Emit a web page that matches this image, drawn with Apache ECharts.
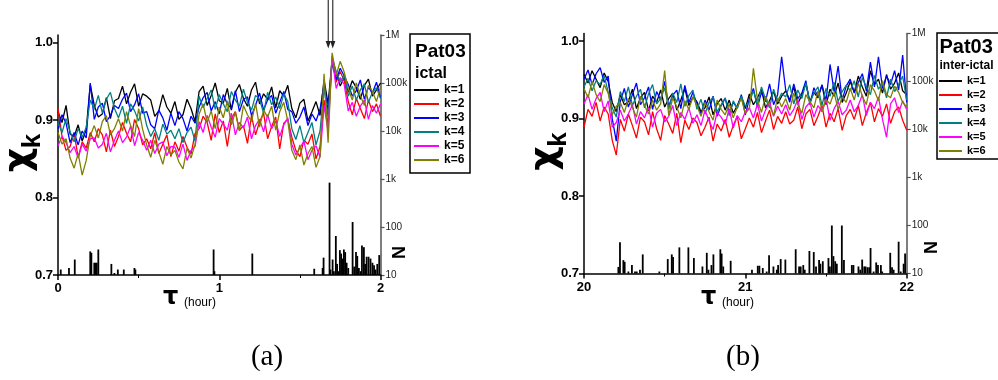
<!DOCTYPE html>
<html><head><meta charset="utf-8">
<script src="https://cdn.jsdelivr.net/npm/echarts@6/dist/echarts.min.js"></script>
<style>html,body{margin:0;padding:0;background:#fff}#c{width:998px;height:380px}</style>
</head><body><div id="c"></div>
<script>
// ---------- DATA ----------
const names = ['k=1','k=2','k=3','k=4','k=5','k=6'];
const tA = [0,0.025,0.05,0.075,0.1,0.125,0.15,0.175,0.2,0.225,0.25,0.275,0.3,0.325,0.35,0.375,0.4,0.425,0.45,0.475,0.5,0.525,0.55,0.575,0.6,0.625,0.65,0.675,0.7,0.725,0.75,0.775,0.8,0.825,0.85,0.875,0.9,0.925,0.95,0.975,1,1.025,1.05,1.075,1.1,1.125,1.15,1.175,1.2,1.225,1.25,1.275,1.3,1.325,1.35,1.375,1.4,1.425,1.45,1.475,1.5,1.525,1.55,1.575,1.6,1.625,1.65,1.675,1.7,1.725,1.75,1.775,1.8,1.825,1.85,1.875,1.9,1.925,1.95,1.975,2];
const tB = [20,20.025,20.05,20.075,20.1,20.125,20.15,20.175,20.2,20.225,20.25,20.275,20.3,20.325,20.35,20.375,20.4,20.425,20.45,20.475,20.5,20.525,20.55,20.575,20.6,20.625,20.65,20.675,20.7,20.725,20.75,20.775,20.8,20.825,20.85,20.875,20.9,20.925,20.95,20.975,21,21.025,21.05,21.075,21.1,21.125,21.15,21.175,21.2,21.225,21.25,21.275,21.3,21.325,21.35,21.375,21.4,21.425,21.45,21.475,21.5,21.525,21.55,21.575,21.6,21.625,21.65,21.675,21.7,21.725,21.75,21.775,21.8,21.825,21.85,21.875,21.9,21.925,21.95,21.975,22];

// panel (a): ictal
const k1A = [.911,.897,.919,.882,.879,.894,.873,.888,.946,.919,.904,.908,.929,.902,.925,.928,.944,.921,.936,.947,.918,.934,.931,.926,.905,.912,.933,.917,.909,.924,.901,.907,.927,.915,.898,.937,.944,.919,.932,.948,.925,.922,.941,.913,.936,.946,.928,.918,.939,.949,.921,.934,.927,.943,.916,.938,.931,.945,.915,.903,.922,.927,.899,.911,.924,.906,.952,.921,.978,.961,.944,.955,.936,.951,.942,.927,.945,.953,.931,.939,.948];
const k2A = [.915,.879,.861,.866,.883,.852,.872,.864,.884,.872,.889,.881,.859,.887,.866,.879,.897,.883,.872,.901,.889,.868,.876,.863,.884,.857,.869,.881,.853,.872,.860,.879,.865,.856,.883,.889,.905,.897,.874,.908,.884,.899,.866,.902,.911,.887,.893,.870,.906,.881,.898,.909,.876,.892,.904,.863,.896,.901,.878,.861,.853,.874,.869,.882,.850,.866,.926,.894,.979,.949,.963,.951,.924,.907,.928,.915,.902,.926,.911,.921,.905];
const k3A = [.889,.907,.896,.871,.884,.868,.886,.877,.948,.901,.917,.922,.898,.906,.919,.915,.927,.935,.911,.920,.934,.909,.911,.894,.889,.913,.903,.887,.909,.893,.911,.902,.886,.905,.896,.917,.929,.936,.912,.924,.908,.933,.921,.915,.938,.911,.927,.930,.906,.919,.935,.913,.926,.932,.909,.923,.937,.914,.911,.896,.904,.917,.893,.908,.899,.914,.946,.912,.975,.952,.967,.957,.946,.931,.938,.952,.927,.943,.935,.949,.929];
const k4A = [.897,.884,.902,.885,.872,.889,.878,.891,.926,.914,.932,.909,.927,.936,.915,.903,.918,.896,.921,.912,.899,.917,.893,.879,.889,.874,.895,.882,.887,.876,.889,.871,.884,.891,.873,.931,.916,.928,.939,.914,.933,.921,.911,.937,.926,.918,.940,.923,.913,.932,.927,.909,.936,.920,.930,.915,.934,.924,.889,.875,.893,.871,.884,.897,.868,.886,.941,.904,.981,.963,.949,.959,.931,.944,.926,.939,.947,.923,.936,.942,.928];
const k5A = [.867,.879,.871,.858,.866,.851,.869,.860,.876,.877,.864,.869,.883,.859,.874,.886,.871,.878,.892,.867,.884,.874,.861,.874,.857,.869,.872,.854,.866,.865,.852,.869,.848,.861,.866,.898,.884,.906,.891,.878,.902,.895,.887,.909,.881,.897,.890,.904,.876,.893,.901,.885,.907,.889,.899,.879,.894,.903,.869,.855,.864,.873,.849,.861,.867,.852,.919,.885,.983,.941,.955,.946,.912,.923,.905,.918,.926,.901,.919,.909,.921];
const k6A = [.884,.869,.876,.851,.838,.857,.829,.848,.880,.893,.877,.898,.906,.881,.889,.902,.886,.911,.893,.879,.915,.888,.868,.852,.874,.859,.843,.866,.855,.861,.846,.837,.864,.851,.869,.908,.921,.897,.912,.889,.917,.903,.925,.894,.910,.886,.919,.907,.898,.922,.891,.913,.904,.918,.887,.911,.923,.899,.861,.849,.868,.842,.857,.866,.839,.853,.960,.871,.987,.958,.976,.962,.941,.926,.948,.932,.919,.945,.937,.924,.943];

// panel (b): inter-ictal
const k1B = [.957,.946,.962,.951,.940,.959,.948,.921,.909,.931,.918,.922,.938,.913,.927,.934,.910,.929,.921,.937,.915,.926,.933,.911,.924,.939,.917,.928,.922,.909,.914,.928,.905,.919,.926,.911,.924,.907,.917,.929,.913,.932,.918,.927,.938,.914,.923,.935,.919,.929,.936,.924,.941,.919,.931,.945,.922,.934,.927,.943,.918,.938,.929,.946,.921,.933,.948,.934,.955,.941,.929,.962,.944,.951,.933,.957,.938,.946,.959,.936,.931];
const k2B = [.889,.912,.903,.921,.897,.915,.906,.872,.853,.899,.884,.906,.891,.875,.902,.896,.879,.909,.887,.872,.904,.893,.881,.907,.869,.898,.886,.901,.895,.878,.889,.902,.871,.893,.884,.899,.876,.891,.903,.874,.887,.901,.889,.908,.882,.897,.911,.886,.903,.894,.909,.893,.898,.915,.887,.906,.912,.891,.903,.917,.889,.907,.896,.913,.885,.904,.912,.899,.917,.891,.908,.921,.896,.913,.903,.919,.894,.909,.915,.898,.885];
const k3B = [.951,.963,.944,.958,.966,.947,.955,.900,.871,.922,.939,.915,.931,.946,.918,.927,.941,.912,.935,.924,.948,.916,.930,.937,.913,.943,.921,.934,.919,.906,.924,.911,.929,.903,.917,.926,.908,.921,.914,.931,.905,.926,.939,.915,.934,.922,.945,.918,.931,.980,.937,.921,.945,.926,.933,.949,.918,.940,.928,.944,.923,.970,.935,.968,.924,.942,.951,.933,.947,.958,.936,.973,.941,.980,.939,.955,.944,.962,.937,.982,.921];
const k4B = [.941,.952,.936,.949,.944,.956,.934,.914,.902,.935,.922,.941,.917,.929,.938,.914,.932,.944,.919,.926,.940,.912,.933,.921,.945,.916,.930,.937,.912,.925,.906,.921,.928,.909,.918,.927,.904,.923,.913,.929,.916,.921,.936,.917,.941,.925,.914,.938,.922,.933,.928,.944,.919,.937,.926,.946,.921,.933,.941,.917,.939,.929,.947,.922,.935,.943,.936,.949,.928,.953,.941,.931,.956,.938,.946,.927,.951,.935,.944,.955,.924];
const k5B = [.919,.931,.912,.926,.934,.909,.923,.889,.895,.911,.897,.906,.918,.893,.909,.901,.915,.889,.907,.912,.896,.903,.917,.891,.908,.899,.914,.894,.905,.891,.911,.897,.886,.908,.902,.893,.913,.888,.904,.896,.909,.914,.901,.919,.897,.911,.922,.903,.916,.906,.918,.904,.912,.925,.899,.915,.921,.902,.917,.909,.926,.898,.913,.922,.905,.911,.924,.909,.917,.931,.904,.921,.913,.928,.899,.876,.919,.927,.908,.923,.912];
const k6B = [.939,.927,.948,.931,.922,.944,.933,.905,.916,.921,.908,.926,.914,.902,.929,.917,.906,.924,.911,.919,.962,.904,.927,.915,.901,.923,.912,.928,.917,.903,.921,.909,.898,.924,.912,.905,.919,.901,.915,.926,.907,.913,.965,.924,.908,.929,.917,.904,.927,.915,.926,.911,.933,.918,.907,.931,.922,.914,.936,.909,.925,.919,.934,.912,.928,.921,.939,.924,.946,.929,.918,.944,.936,.923,.949,.931,.927,.942,.934,.921,.915];

// number of events N (right log axis)
const nTA = [0.017,0.068,0.104,0.200,0.207,0.225,0.232,0.240,0.250,0.331,0.350,0.371,0.408,0.474,0.480,0.965,0.970,1.205,1.589,1.641,1.647,1.684,1.690,1.703,1.711,1.723,1.731,1.740,1.748,1.756,1.765,1.773,1.781,1.790,1.800,1.827,1.837,1.848,1.856,1.866,1.877,1.885,1.897,1.905,1.914,1.926,1.938,1.950,1.960,1.969,1.980,1.992];
const nVA = [13,14,21,31,29,18,18,18,34,17,11,13,13,14,13,34,12,28,13.5,14,23,840,13,21,12,65,17,12,33,28,22,34,30,18,14,127,15,30,25,14,12,41,38,17,24,24,22,18,16,13,17,26];
const nTB = [20.213,20.223,20.244,20.252,20.275,20.297,20.316,20.327,20.347,20.364,20.467,20.519,20.544,20.552,20.591,20.647,20.681,20.734,20.761,20.771,20.790,20.802,20.845,20.853,20.863,20.909,21.041,21.077,21.087,21.108,21.132,21.147,21.174,21.195,21.203,21.219,21.248,21.312,21.333,21.343,21.359,21.368,21.397,21.424,21.438,21.457,21.465,21.480,21.515,21.524,21.536,21.546,21.557,21.567,21.598,21.611,21.660,21.670,21.701,21.712,21.724,21.737,21.745,21.757,21.768,21.776,21.795,21.811,21.822,21.840,21.848,21.898,21.909,21.919,21.950,21.963,21.981,21.990];
const nVB = [13.7,45,19,17.5,11,15,11,11,12,25,11,20,25,22,35,35,21,14,27,12,15,25,32,26,14,18.4,12,14.5,14.5,13,11,24,14,12,15,20,19.5,32,14,14,15,12,29.5,28,14,19,16,18,21,14,100,23,18,16,100,19,15,15,14,12,19.5,14,14,13.5,13.5,34,11,17,15,15,11,27,13.5,12,46,11,16,26];

const chiTicks = [0.7, 0.8, 0.9, 1.0];
const arrowT = [1.676, 1.704];

// ---------- CHART ----------
const colors = ['#000000','#ff0000','#0000ff','#008080','#ff00ff','#808000'];
const FONT = 'Liberation Sans, Arial, sans-serif';
const chart = echarts.init(document.getElementById('c'), null, {renderer: 'canvas'});

function lines(t, sets, gi) {
  return sets.map((v, j) => ({
    name: names[j], type: 'line', xAxisIndex: gi, yAxisIndex: gi * 2,
    data: t.map((x, i) => [x, v[i]]), symbol: 'none', showSymbol: false,
    lineStyle: {width: 1.3, color: colors[j]}, itemStyle: {color: colors[j]},
    z: 3 + j, animation: false, clip: true
  }));
}
function bars(t, n, gi) {
  return {
    name: 'N', type: 'bar', xAxisIndex: gi, yAxisIndex: gi * 2 + 1,
    data: t.map((x, i) => [x, n[i]]), barWidth: 1.8, barGap: '-100%',
    itemStyle: {color: '#000'}, clip: true, z: 2, animation: false
  };
}
function logFmt(v) {
  const m = {10: '10', 100: '100', 1000: '1k', 10000: '10k', 100000: '100k', 1000000: '1M'};
  const r = Math.round(v);
  return m[r] !== undefined ? m[r] : '';
}
function xAxis(gi, mn, mx) {
  return {
    gridIndex: gi, type: 'value', min: mn, max: mx, interval: 1,
    axisLine: {onZero: false, lineStyle: {color: '#000', width: 1.5}},
    axisTick: {length: 5, lineStyle: {color: '#000', width: 1.5}},
    minorTick: {show: true, splitNumber: 2, length: 3, lineStyle: {color: '#000', width: 1}},
    axisLabel: {fontWeight: 'bold', fontSize: 13, color: '#000', margin: 7, fontFamily: FONT},
    splitLine: {show: false}
  };
}
function yLeft(gi) {
  return {
    gridIndex: gi, type: 'value', min: 0.7, max: 1.01, position: 'left',
    axisLine: {show: true, onZero: false, lineStyle: {color: '#000', width: 1.5}},
    axisTick: {show: true, length: 5, customValues: chiTicks, lineStyle: {color: '#000', width: 1.5}},
    axisLabel: {customValues: chiTicks, formatter: v => Number(v).toFixed(1), fontWeight: 'bold', fontSize: 13, color: '#000', margin: 5, fontFamily: FONT},
    splitLine: {show: false}
  };
}
function yRight(gi) {
  return {
    gridIndex: gi, type: 'log', logBase: 10, min: 10, max: 1000000, position: 'right',
    axisLine: {show: true, onZero: false, lineStyle: {color: '#555', width: 1.5}},
    axisTick: {show: true, length: 4, lineStyle: {color: '#555', width: 1.2}},
    axisLabel: {formatter: logFmt, fontSize: 10, color: '#222', margin: 5, fontFamily: FONT},
    splitLine: {show: false}, minorTick: {show: false}
  };
}
function legend(left, top, fs, gap, iw) {
  return {
    orient: 'vertical', left: left, top: top, data: names, icon: 'rect',
    itemWidth: iw, itemHeight: 2, itemGap: gap, selectedMode: false, padding: 0,
    textStyle: {fontWeight: 'bold', fontSize: fs, color: '#000', fontFamily: FONT, lineHeight: fs}
  };
}
function txt(x, y, s, font) {
  return {type: 'text', x: x, y: y, silent: true,
    style: {text: s, font: font, fill: '#000', align: 'left', verticalAlign: 'middle'}};
}
function rtxt(x, y, s, font) {
  return {type: 'text', x: x, y: y, rotation: Math.PI / 2, silent: true,
    style: {text: s, font: font, fill: '#000', align: 'center', verticalAlign: 'middle'}};
}

const option = {
  animation: false,
  textStyle: {fontFamily: FONT},
  grid: [
    {left: 58, top: 35, width: 322.5, height: 240},
    {left: 584, top: 33.5, width: 322.7, height: 240}
  ],
  xAxis: [xAxis(0, 0, 2), xAxis(1, 20, 22)],
  yAxis: [yLeft(0), yRight(0), yLeft(1), yRight(1)],
  legend: [legend(414, 84, 12, 2, 25), legend(939, 75.5, 11, 3, 23)],
  series: [
    bars(nTA, nVA, 0),
    ...lines(tA, [k1A, k2A, k3A, k4A, k5A, k6A], 0),
    bars(nTB, nVB, 1),
    ...lines(tB, [k1B, k2B, k3B, k4B, k5B, k6B], 1)
  ]
};
chart.setOption(option);

const g = [
  {type: 'rect', shape: {x: 410, y: 34, width: 60, height: 139}, style: {fill: 'none', stroke: '#000', lineWidth: 1.5}, silent: true},
  txt(415, 52, 'Pat03', 'bold 19px ' + FONT),
  txt(415, 73.5, 'ictal', 'bold 16px ' + FONT),
  {type: 'rect', shape: {x: 937, y: 33, width: 80, height: 126}, style: {fill: 'none', stroke: '#000', lineWidth: 1.5}, silent: true},
  txt(939.5, 47, 'Pat03', 'bold 20px ' + FONT),
  txt(939.5, 66, 'inter-ictal', 'bold 12px ' + FONT),
  rtxt(19, 160, 'χ', 'bold 38px DejaVu Sans'),
  rtxt(33, 141, 'k', 'bold 26px ' + FONT),
  rtxt(545, 158.5, 'χ', 'bold 38px DejaVu Sans'),
  rtxt(559, 139.5, 'k', 'bold 26px ' + FONT),
  rtxt(400.5, 252.5, 'N', 'bold 18px ' + FONT),
  rtxt(932.5, 247.5, 'N', 'bold 18px ' + FONT),
  txt(163, 298, 'τ', 'bold 24px DejaVu Sans'),
  txt(184, 302.5, '(hour)', '12px ' + FONT),
  txt(701, 298, 'τ', 'bold 24px DejaVu Sans'),
  txt(722, 302.5, '(hour)', '12px ' + FONT),
  {type: 'text', x: 267, y: 357, silent: true, style: {text: '(a)', font: '29px Liberation Serif', fill: '#000', align: 'center', verticalAlign: 'middle'}},
  {type: 'text', x: 743, y: 357, silent: true, style: {text: '(b)', font: '29px Liberation Serif', fill: '#000', align: 'center', verticalAlign: 'middle'}}
];
arrowT.forEach(t => {
  const px = chart.convertToPixel({xAxisIndex: 0}, t);
  g.push({type: 'line', shape: {x1: px, y1: 0, x2: px, y2: 43}, style: {stroke: '#333', lineWidth: 1.2}, silent: true});
  g.push({type: 'polygon', shape: {points: [[px - 2.6, 41], [px + 2.6, 41], [px, 48.5]]}, style: {fill: '#222'}, silent: true});
});
chart.setOption({graphic: g});
</script>
</body></html>
